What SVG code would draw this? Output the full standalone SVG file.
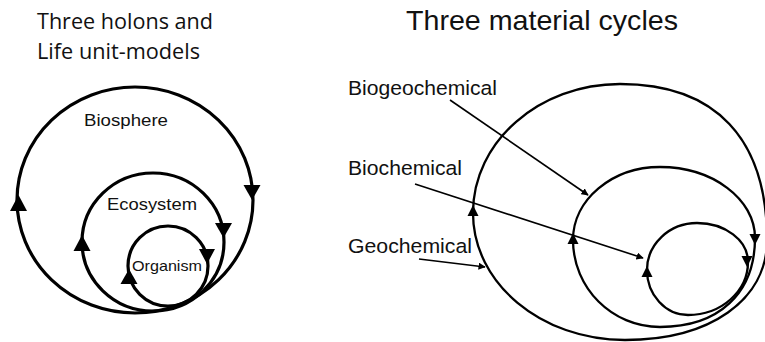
<svg xmlns="http://www.w3.org/2000/svg" width="765" height="342" viewBox="0 0 765 342">
<style>
.t1{font-family:"Open Sans","Liberation Sans",sans-serif;font-size:22px;fill:#111}
.t2{font-family:"Liberation Sans",Arial,sans-serif;fill:#111}
.loopL{fill:none;stroke:#000;stroke-width:3.2}
.loopR{fill:none;stroke:#000;stroke-width:2.3}
.ah{fill:#000}
.ptr{fill:none;stroke:#000;stroke-width:1.6}
</style>
<defs>
<marker id="m" viewBox="0 0 10 10" refX="9" refY="5" markerWidth="4.5" markerHeight="4.5" orient="auto" markerUnits="strokeWidth">
<path d="M0,0 L10,5 L0,10 z" fill="#000"/>
</marker>
</defs>
<g id="title-left">
<text class="t1" x="37" y="29" textLength="176" lengthAdjust="spacingAndGlyphs">Three holons and</text>
<text class="t1" x="37" y="59" textLength="163" lengthAdjust="spacingAndGlyphs">Life unit-models</text>
</g>
<g id="title-right">
<text class="t2" x="406" y="30" font-size="28" textLength="272" lengthAdjust="spacingAndGlyphs">Three material cycles</text>
</g>
<g id="biosphere">
<ellipse class="loopL" cx="135" cy="200" rx="118" ry="113"/>
<path class="ah" d="M10,211 L27,211 L18.5,195 z"/>
<path class="ah" d="M243.5,185 L260.5,185 L252,200 z"/>
<text class="t2" x="84" y="126" font-size="17" textLength="84" lengthAdjust="spacingAndGlyphs">Biosphere</text>
</g>
<g id="ecosystem">
<ellipse class="loopL" cx="153" cy="242" rx="71" ry="69"/>
<path class="ah" d="M73.5,251 L90.5,251 L82,235 z"/>
<path class="ah" d="M215,223 L232,223 L223.5,238 z"/>
<text class="t2" x="107" y="210" font-size="17" textLength="90" lengthAdjust="spacingAndGlyphs">Ecosystem</text>
</g>
<g id="organism">
<circle class="loopL" cx="168" cy="266" r="40"/>
<path class="ah" d="M120.5,284 L137.5,284 L129,269 z"/>
<path class="ah" d="M199,249 L215,249 L207,264 z"/>
<text class="t2" x="132" y="271" font-size="15" textLength="70" lengthAdjust="spacingAndGlyphs">Organism</text>
</g>
<g id="geochemical">
<path class="loopR" d="M620,84 C715.6,84 767,138.6 767,240 C767,300 710.2,340 625,340 C541.1,340 473,283.1 473,213 C473,141.8 538.9,84 620,84 Z"/>
<path class="ah" d="M467.5,216 L478.5,216 L473,205 z"/>
<text class="t2" x="348" y="253" font-size="20.5" textLength="124" lengthAdjust="spacingAndGlyphs">Geochemical</text>
</g>
<g id="biogeochemical">
<path class="loopR" d="M660,167 C712.4,167 755,198.8 755,238 C755,293.2 718.9,327 660,327 C612,327 573,288 573,240 C573,199.7 612,167 660,167 Z"/>
<path class="ah" d="M567.5,244 L578.5,244 L573,233 z"/>
<path class="ah" d="M749.5,234 L760.5,234 L755,245 z"/>
<text class="t2" x="348" y="95" font-size="20.5" textLength="149" lengthAdjust="spacingAndGlyphs">Biogeochemical</text>
</g>
<g id="biochemical">
<path class="loopR" d="M697,223 C725.2,223 748,240.5 748,262 C748,291.3 721.1,315 688,315 C665.4,315 647,294.8 647,270 C647,244.1 669.4,223 697,223 Z"/>
<path class="ah" d="M641.5,277 L652.5,277 L647,266 z"/>
<path class="ah" d="M741.5,256 L752.5,256 L747,267 z"/>
<text class="t2" x="348" y="175" font-size="20.5" textLength="114" lengthAdjust="spacingAndGlyphs">Biochemical</text>
</g>
<g id="connectors">
<line class="ptr" x1="450" y1="100" x2="588" y2="195" marker-end="url(#m)"/>
<line class="ptr" x1="415" y1="184" x2="643" y2="258" marker-end="url(#m)"/>
<line class="ptr" x1="419" y1="259" x2="485" y2="267" marker-end="url(#m)"/>
</g>
</svg>
